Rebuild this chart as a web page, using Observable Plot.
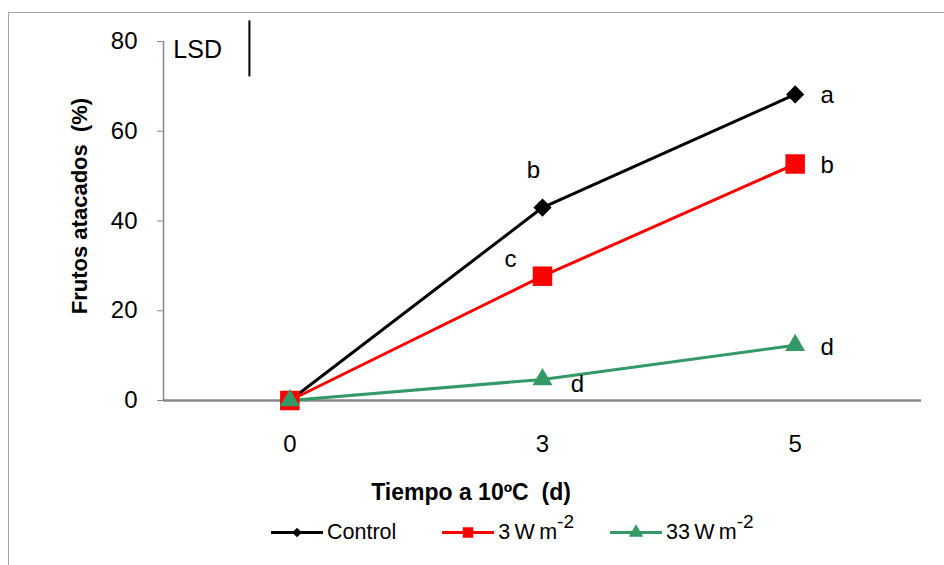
<!DOCTYPE html>
<html>
<head>
<meta charset="utf-8">
<script src="https://cdn.jsdelivr.net/npm/d3@7"></script>
<script src="https://cdn.jsdelivr.net/npm/@observablehq/plot@0.6"></script>
<style>
  html, body { margin: 0; padding: 0; background: #fff; }
  body { font-family: "Liberation Sans", Arial, sans-serif; }
  #wrap { position: relative; width: 944px; height: 565px; overflow: hidden; }
  #frame { position: absolute; left: 8px; top: 12px; width: 1000px; height: 700px; border: 1.5px solid #a6a6a6; box-sizing: border-box; }
  #chart { position: absolute; left: 0; top: 0; }
  .xtitle { position: absolute; left: 471px; top: 492px; transform: translate(-50%, -50%); font-weight: bold; font-size: 23px; white-space: pre; }
  .ytitle { position: absolute; left: 80px; top: 206px; transform: translate(-50%, -50%) rotate(-90deg); font-weight: bold; font-size: 22px; white-space: pre; }
  #legend { position: absolute; left: 271px; top: 532px; transform: translateY(-50%); display: flex; align-items: center; font-size: 21.5px; }
  #legend .item { display: flex; align-items: center; }
  #legend svg { display: block; margin-right: 4px; }
  sup { font-size: 19px; vertical-align: 11px; line-height: 0; }
</style>
</head>
<body>
<div id="wrap">
  <div id="frame"></div>
  <div id="chart"></div>
  <div class="xtitle">Tiempo a 10ºC  (d)</div>
  <div class="ytitle">Frutos atacados  (%)</div>
  <div id="legend"></div>
</div>
<script>
// Categories (equally spaced, category axis)
const tiempos = ["0", "3", "5"];
// Series values (% frutos atacados)
const control = [0, 43, 68.2];
const w3 = [0, 27.7, 52.7];
const w33 = [0, 4.7, 12.3];
const seriesNames = ["Control", "3 W m-2", "33 W m-2"];
const seriesColors = ["#000000", "#ff0000", "#339966"];
const yTicks = [0, 20, 40, 60, 80];
// Significance letters: [series index, time index, letter]
const letters = [
  [0, 1, "b"], [0, 2, "a"],
  [1, 1, "c"], [1, 2, "b"],
  [2, 1, "d"], [2, 2, "d"]
];
// LSD bar
const lsdValue = 12.5;
const lsdTop = 84.6;

const seriesValues = [control, w3, w33];
const data = [];
seriesValues.forEach((vals, s) => vals.forEach((v, i) => data.push({serie: seriesNames[s], i, t: tiempos[i], v})));

const symbols = ["diamond2", "square", "triangle"];
const symbolR = [8.2, 11, 7.4];

// label offsets (style)
const labelOffsets = {
  "0-1": [-9, -37], "0-2": [32, 1],
  "1-1": [-32, -17], "1-2": [32, 1],
  "2-1": [35, 5], "2-2": [32, 2]
};
const letterData = letters.map(([s, i, l]) => ({i, v: seriesValues[s][i], l, dx: labelOffsets[s + "-" + i][0], dy: labelOffsets[s + "-" + i][1]}));

const xDomain = [-0.5, tiempos.length - 0.5];

const marks = [
  Plot.ruleX([xDomain[0]], {stroke: "#888", strokeWidth: 1.5}),
  Plot.axisY({ticks: yTicks, tickSize: 6, tickPadding: 20, stroke: "#888", fill: "black", fontSize: 24, label: null}),
  Plot.axisX({ticks: d3.range(tiempos.length), tickFormat: i => tiempos[i], tickSize: 0, tickPadding: 34, fill: "black", fontSize: 24, label: null}),
  Plot.ruleY([0], {stroke: "#888", strokeWidth: 2.5}),
];
seriesNames.forEach((name, s) => {
  const d = data.filter(r => r.serie === name);
  marks.push(Plot.line(d, {x: "i", y: "v", stroke: seriesColors[s], strokeWidth: 3}));
});
seriesNames.forEach((name, s) => {
  const d = data.filter(r => r.serie === name);
  marks.push(Plot.dot(d, {x: "i", y: "v", symbol: () => symbols[s], r: symbolR[s], fill: seriesColors[s], stroke: "none"}));
});
letterData.forEach(d => {
  marks.push(Plot.text([d], {x: "i", y: "v", text: "l", dx: d.dx, dy: d.dy, fontSize: 24, fill: "black"}));
});
marks.push(Plot.ruleX([-0.16], {y1: lsdTop - lsdValue, y2: lsdTop, stroke: "black", strokeWidth: 2}));
marks.push(Plot.text(["LSD"], {x: -0.365, y: 78.1, text: d => d, fontSize: 25, fill: "black"}));

const chart = Plot.plot({
  width: 944,
  height: 565,
  marginLeft: 163,
  marginRight: 23,
  marginTop: 41,
  marginBottom: 165,
  style: {fontFamily: '"Liberation Sans", Arial, sans-serif', background: "transparent", overflow: "visible"},
  x: {domain: xDomain, axis: null},
  y: {domain: [0, 80], axis: null},
  symbol: {type: "identity"},
  clip: false,
  marks
});
document.getElementById("chart").appendChild(chart);

// Legend
const legend = document.getElementById("legend");
const itemGaps = ["46px", "36px", "0px"];
seriesNames.forEach((name, s) => {
  const item = document.createElement("div");
  item.className = "item";
  item.style.marginRight = itemGaps[s];
  const svg = d3.create("svg").attr("width", 52).attr("height", 24);
  svg.append("line").attr("x1", 0).attr("x2", 52).attr("y1", 12).attr("y2", 12).attr("stroke", seriesColors[s]).attr("stroke-width", 3);
  const sym = d3.symbol().type([d3.symbolDiamond2, d3.symbolSquare, d3.symbolTriangle][s]).size([60, 110, 90][s]);
  svg.append("path").attr("d", sym()).attr("transform", "translate(26,12)").attr("fill", seriesColors[s]);
  item.appendChild(svg.node());
  const label = document.createElement("span");
  const parts = name.split("-");
  if (parts.length > 1) {
    label.innerHTML = parts[0].replace(/ /g, "&#8201;") + "<sup>-" + parts[1] + "</sup>";
  } else {
    label.textContent = name;
  }
  item.appendChild(label);
  legend.appendChild(item);
});
</script>
</body>
</html>
